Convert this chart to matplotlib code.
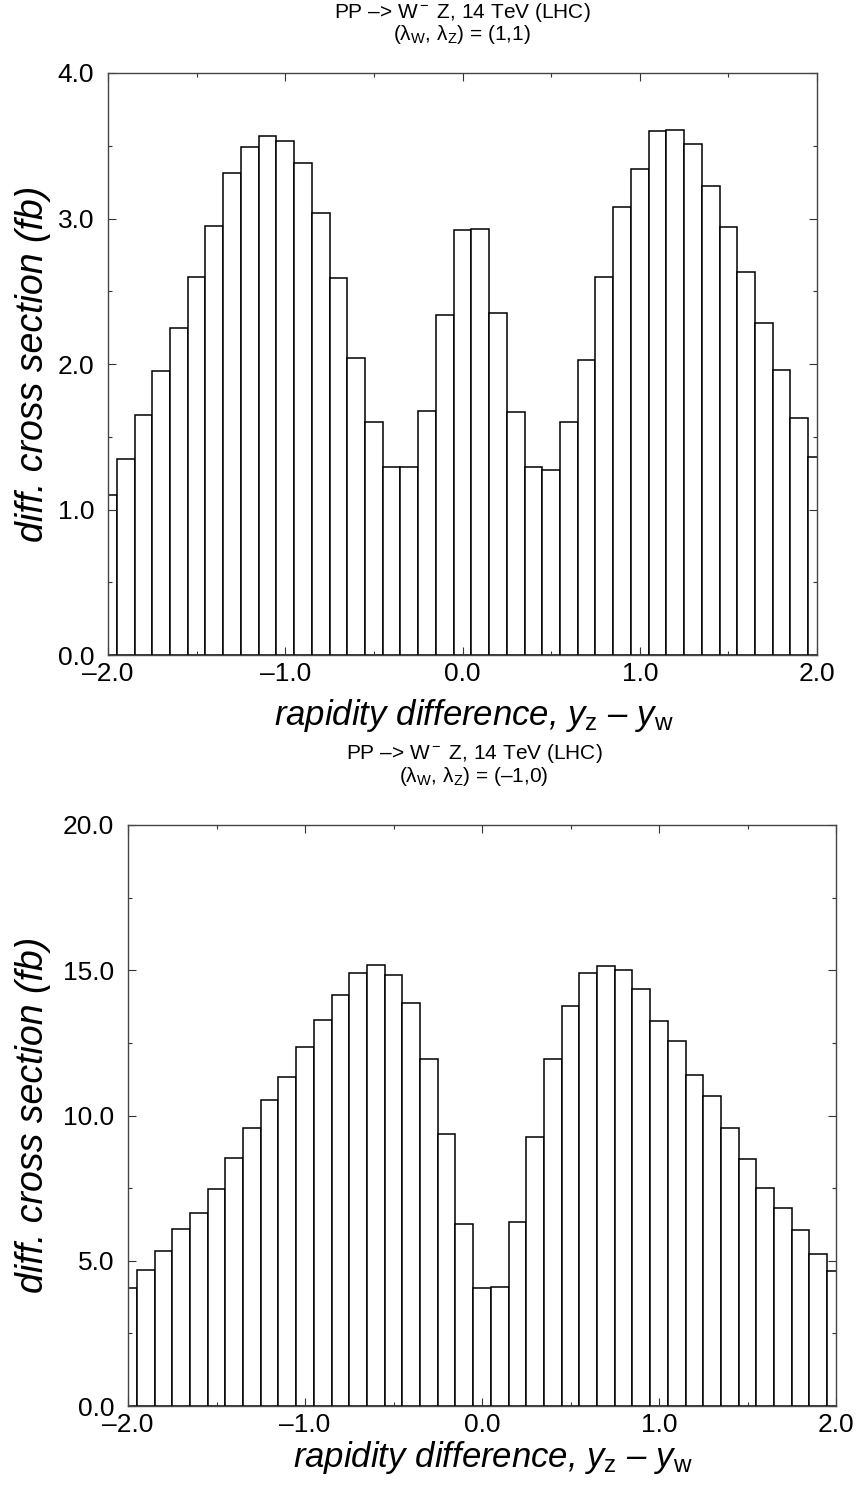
import numpy as np
import matplotlib
matplotlib.use("Agg")
import matplotlib.pyplot as plt
from matplotlib.ticker import MultipleLocator, FuncFormatter

plt.rcParams['font.family'] = ['Liberation Sans', 'DejaVu Sans']
plt.rcParams['mathtext.fontset'] = 'custom'
plt.rcParams['mathtext.rm'] = 'Liberation Sans'
plt.rcParams['mathtext.it'] = 'Liberation Sans:italic'

# bin centres of the rapidity difference y_z - y_w
centers = np.round(np.arange(-2.0, 2.01, 0.1), 2)

# (lambda_W, lambda_Z) = (1,1)
xsec_11 = [1.10, 1.35, 1.65, 1.95, 2.25, 2.60, 2.95, 3.31, 3.49, 3.57,
           3.53, 3.38, 3.04, 2.59, 2.04, 1.60, 1.29, 1.29, 1.68, 2.34,
           2.92, 2.93, 2.35, 1.67, 1.29, 1.27, 1.60, 2.03, 2.60, 3.08,
           3.34, 3.60, 3.61, 3.51, 3.22, 2.94, 2.63, 2.28, 1.96, 1.63,
           1.36]

# (lambda_W, lambda_Z) = (-1,0)
xsec_m10 = [4.06, 4.68, 5.32, 6.08, 6.66, 7.46, 8.53, 9.56, 10.54, 11.33,
            12.36, 13.29, 14.14, 14.89, 15.17, 14.83, 13.88, 11.96, 9.35, 6.27,
            4.06, 4.08, 6.32, 9.27, 11.93, 13.78, 14.91, 15.13, 15.00, 14.37,
            13.26, 12.57, 11.39, 10.68, 9.57, 8.50, 7.52, 6.82, 6.05, 5.22,
            4.65]

W, H = 856, 1487
fig = plt.figure(figsize=(W / 100, H / 100), dpi=100)


def px(x, y):
    # pixel position -> figure fraction
    return x / W, 1 - y / H


def frac_axes(x0, y0, x1, y1):
    return fig.add_axes([x0 / W, 1 - y1 / H, (x1 - x0) / W, (y1 - y0) / H])


def fmt(v, pos):
    s = "%.1f" % v
    return s.replace("-", "\u2013")


def draw_panel(ax, values, ymax, major, minor, lam, title_xy, xlab_xy, ylab_xy):
    ax.bar(centers, values, width=0.1, color='white', edgecolor='black',
           linewidth=1.1, align='center')
    ax.set_xlim(-2.0, 2.0)
    ax.set_ylim(0, ymax)
    ax.xaxis.set_major_locator(MultipleLocator(1.0))
    ax.xaxis.set_minor_locator(MultipleLocator(0.5))
    ax.yaxis.set_major_locator(MultipleLocator(major))
    ax.yaxis.set_minor_locator(MultipleLocator(minor))
    ax.xaxis.set_major_formatter(FuncFormatter(fmt))
    ax.yaxis.set_major_formatter(FuncFormatter(fmt))
    ax.tick_params(which='both', direction='in', top=True, right=True,
                   width=0.8, color='#333333')
    ax.tick_params(which='major', length=6, labelsize=19)
    ax.tick_params(which='minor', length=3)
    ax.tick_params(axis='y', pad=10)
    ax.tick_params(axis='x', pad=5)
    for sp in ax.spines.values():
        sp.set_linewidth(1.0)
        sp.set_color('#444444')

    tx, ty = title_xy
    fig.text(*px(tx, ty), "PP \u2013> W$^{\\rm -}$ Z, 14 TeV (LHC)",
             ha='center', va='center', fontsize=15)
    fig.text(*px(tx, ty + 22),
             "(\u03bb$_{\\rm W}$, \u03bb$_{\\rm Z}$) = " + lam,
             ha='center', va='center', fontsize=15)
    fig.text(*px(*xlab_xy),
             "rapidity difference, $y_{\\rm z}$ \u2013 $y_{\\rm w}$",
             ha='center', va='center', fontsize=25, style='italic')
    fig.text(*px(*ylab_xy), "diff. cross section (fb)", rotation=90,
             ha='center', va='center', fontsize=27, style='italic')


ax1 = frac_axes(108, 73, 817, 655)
draw_panel(ax1, xsec_11, 4.0, 1.0, 0.5, "(1,1)",
           (462, 12), (474, 716), (33, 364))

ax2 = frac_axes(128, 825, 836, 1406)
draw_panel(ax2, xsec_m10, 20.0, 5.0, 2.5, "(\u20131,0)",
           (474, 754), (493, 1458), (33, 1115))

fig.savefig("out.png", dpi=100)
